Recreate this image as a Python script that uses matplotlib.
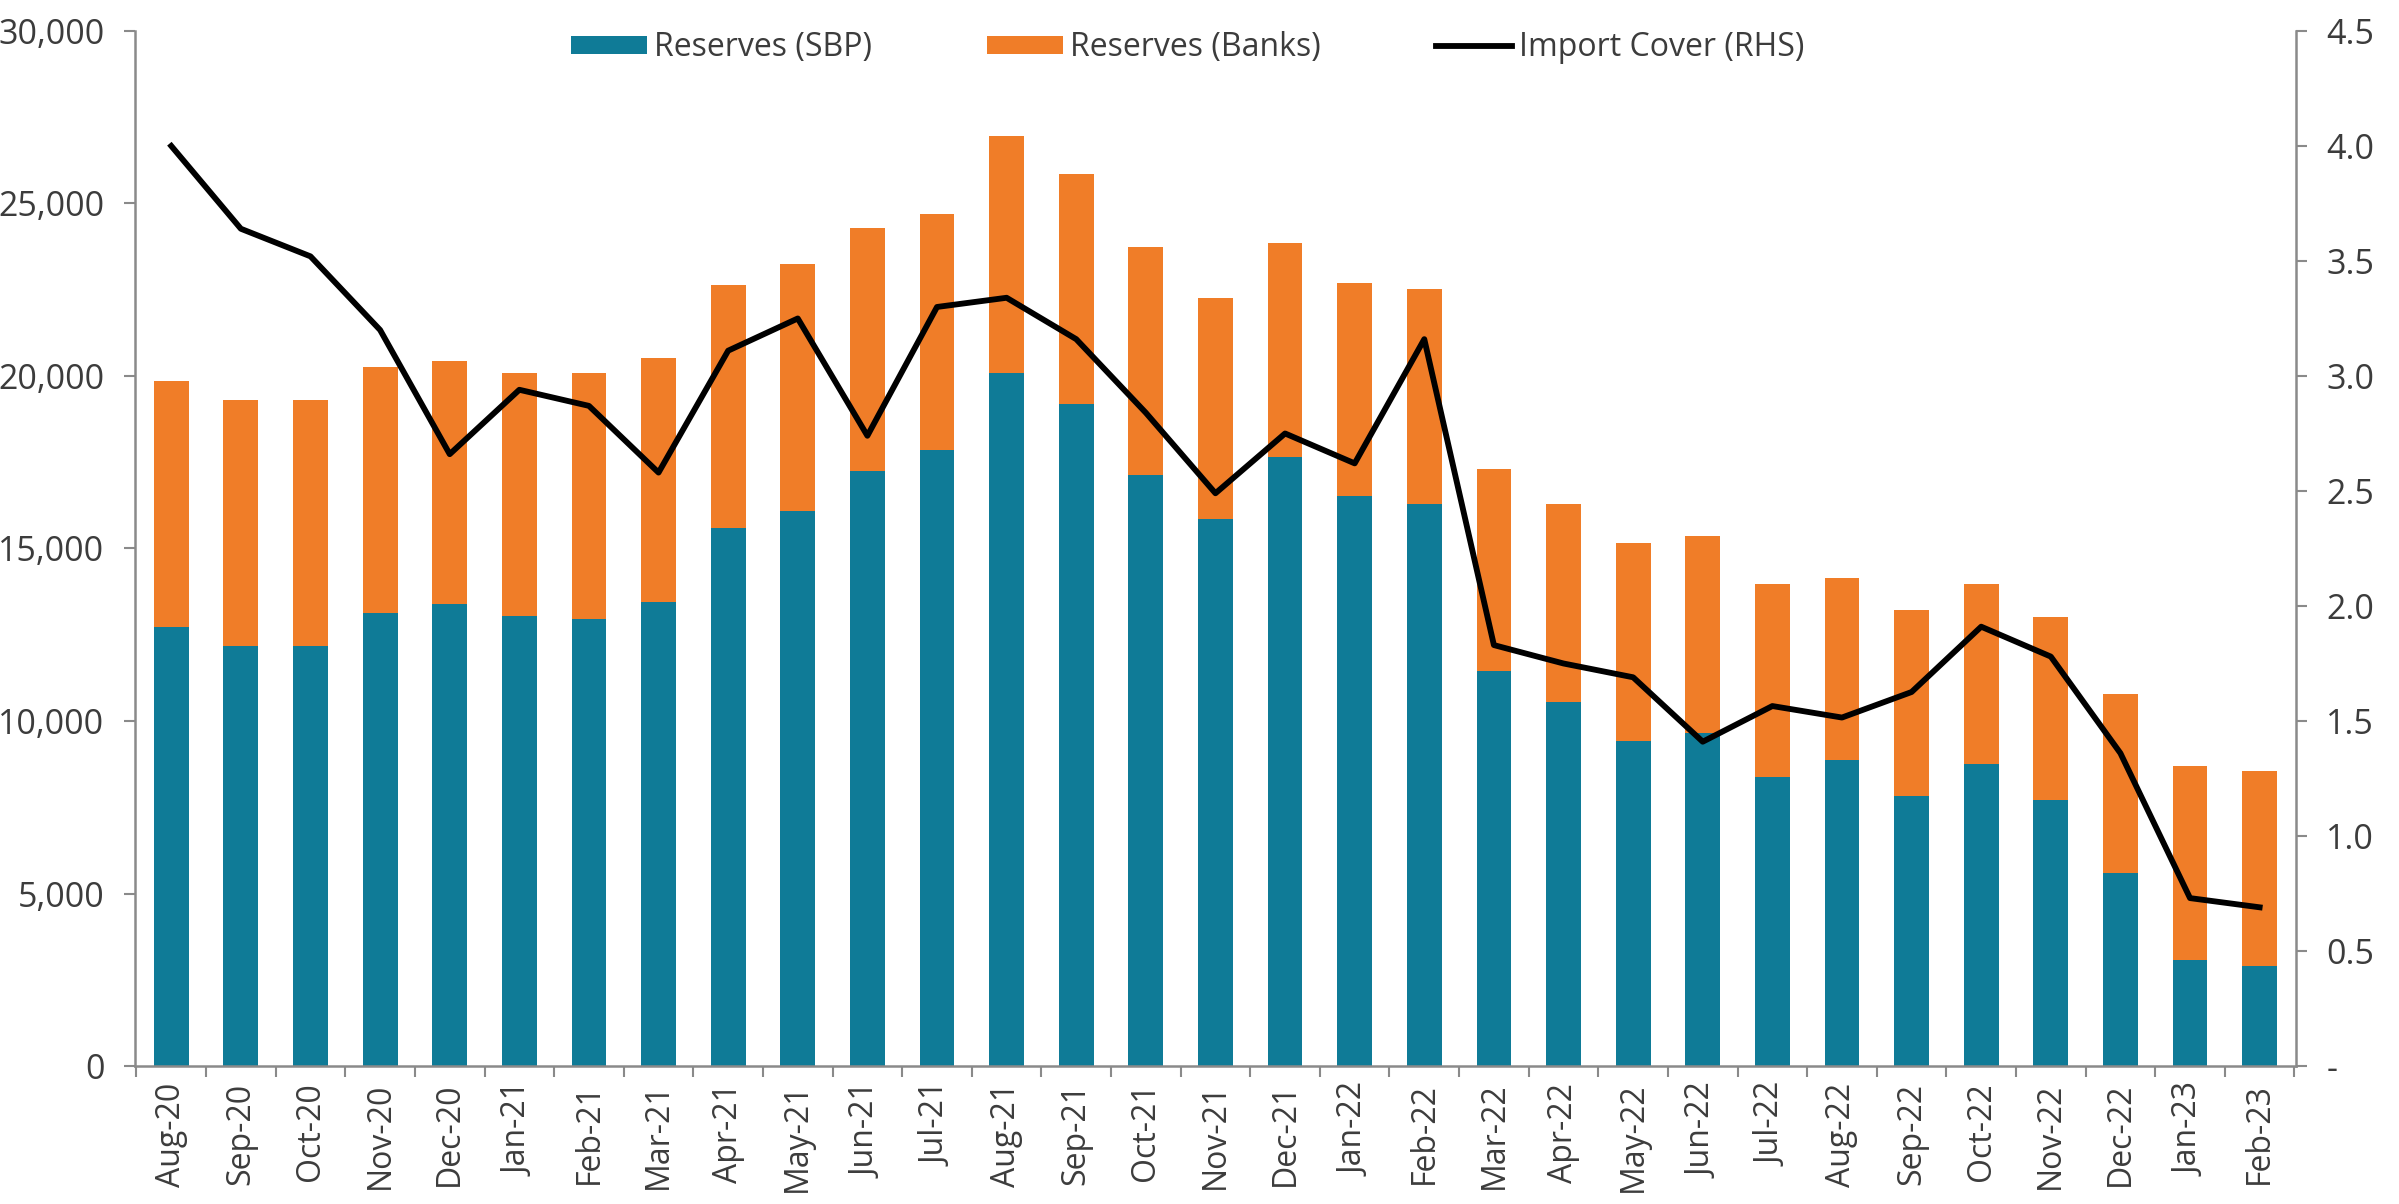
import numpy as np
import matplotlib.pyplot as plt
from matplotlib.ticker import FuncFormatter

months = ['Aug-20', 'Sep-20', 'Oct-20', 'Nov-20', 'Dec-20', 'Jan-21', 'Feb-21', 'Mar-21',
          'Apr-21', 'May-21', 'Jun-21', 'Jul-21', 'Aug-21', 'Sep-21', 'Oct-21', 'Nov-21',
          'Dec-21', 'Jan-22', 'Feb-22', 'Mar-22', 'Apr-22', 'May-22', 'Jun-22', 'Jul-22',
          'Aug-22', 'Sep-22', 'Oct-22', 'Nov-22', 'Dec-22', 'Jan-23', 'Feb-23']

# SBP reserves (USD mn)
sbp = [12720, 12170, 12170, 13120, 13400, 13040, 12950, 13450,
       15600, 16100, 17250, 17860, 20090, 19200, 17140, 15860,
       17640, 16530, 16300, 11450, 10550, 9420, 9650, 8380,
       8870, 7830, 8750, 7710, 5580, 3070, 2900]

# total reserves (SBP + banks)
total = [19860, 19300, 19300, 20250, 20420, 20080, 20080, 20530,
         22630, 23240, 24300, 24700, 26960, 25850, 23740, 22250,
         23860, 22690, 22520, 17300, 16300, 15150, 15370, 13960,
         14130, 13230, 13960, 13000, 10780, 8700, 8550]

banks = [t - s for t, s in zip(total, sbp)]

# import cover in months (RHS)
cover = [4.00, 3.64, 3.52, 3.20, 2.66, 2.94, 2.87, 2.58,
         3.11, 3.25, 2.74, 3.30, 3.34, 3.16, 2.84, 2.49,
         2.75, 2.62, 3.16, 1.83, 1.75, 1.69, 1.41, 1.565,
         1.515, 1.626, 1.91, 1.78, 1.36, 0.73, 0.69]

teal = '#0f7b97'
orange = '#f07d28'
grey_txt = '#3c3c3c'
spine_col = '#8a8a8a'

plt.rcParams['font.family'] = ['Open Sans', 'DejaVu Sans']

fig = plt.figure(figsize=(23.99, 12.04), dpi=100)
ax = fig.add_axes([0.0563, 0.1146, 0.9007, 0.8597])
ax2 = ax.twinx()

x = np.arange(len(months))
b1 = ax.bar(x, sbp, width=0.5, color=teal, label='Reserves (SBP)', zorder=2)
b2 = ax.bar(x, banks, width=0.5, bottom=sbp, color=orange, label='Reserves (Banks)', zorder=2)
l1, = ax2.plot(x, cover, color='black', lw=4.2, label='Import Cover (RHS)', zorder=3)

ax.set_xlim(-0.52, len(months) - 0.48)
ax.set_ylim(0, 30000)
ax.set_yticks(np.arange(0, 30001, 5000))
ax.yaxis.set_major_formatter(FuncFormatter(lambda v, p: f'{int(v):,}'))

ax2.set_ylim(0, 4.5)
ax2.set_yticks(np.arange(0, 4.51, 0.5))
ax2.yaxis.set_major_formatter(FuncFormatter(lambda v, p: '-' if abs(v) < 1e-9 else f'{v:.1f}'))

ax.set_xticks(x)
ax.set_xticklabels(months, rotation=90)
ax.set_xticks(np.arange(-0.5, len(months), 1.0), minor=True)
ax.tick_params(axis='x', which='major', length=0, pad=12, labelsize=23, labelcolor=grey_txt)
ax.tick_params(axis='x', which='minor', length=8, width=1.5, color=spine_col, direction='out')
ax.tick_params(axis='y', length=8, width=1.5, color=spine_col, labelsize=24.5,
               labelcolor=grey_txt, pad=14)
ax2.tick_params(axis='y', length=8, width=1.5, color=spine_col, labelsize=24.5,
                labelcolor=grey_txt, pad=14)

for a in (ax, ax2):
    a.spines['top'].set_visible(False)
    for s in ('left', 'right', 'bottom'):
        a.spines[s].set_color(spine_col)
        a.spines[s].set_linewidth(1.8)
ax.spines['right'].set_visible(False)
ax2.spines['left'].set_visible(False)
ax2.spines['bottom'].set_visible(False)

ax.legend([b1, b2, l1], ['Reserves (SBP)', 'Reserves (Banks)', 'Import Cover (RHS)'],
          loc='center', bbox_to_anchor=(0.487, 0.984), ncol=3, frameon=False,
          fontsize=23, handlelength=2.4, handleheight=0.5, columnspacing=3.6,
          handletextpad=0.2, labelcolor=grey_txt)

fig.savefig('out.png', dpi=100, facecolor='white')
